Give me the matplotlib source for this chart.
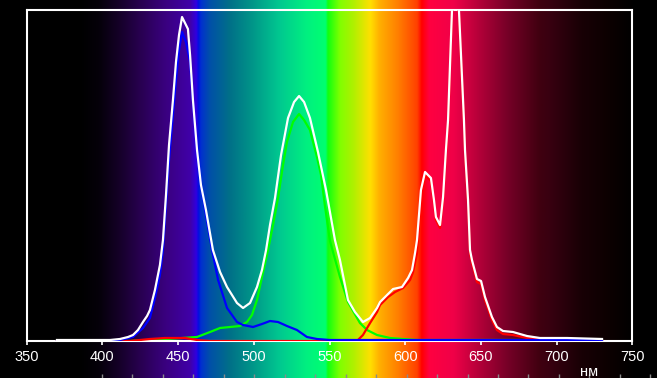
import numpy as np
import matplotlib
matplotlib.use("Agg")
import matplotlib.pyplot as plt
from matplotlib.colors import to_rgb

# ---------------- data ----------------
white_nm = [370.0, 405.0, 411.6, 416.9, 420.2, 423.5, 426.8, 429.5, 431.4, 434.7, 438.0, 440.0,
            442.0, 444.0, 446.6, 448.6, 450.6, 452.6, 456.5, 457.9, 459.8, 462.5, 465.1, 468.4,
            473.0, 477.7, 482.3, 488.9, 492.9, 497.5, 502.1, 505.4, 508.1, 510.7, 514.0, 518.0,
            522.6, 526.6, 529.9, 533.2, 537.1, 542.4, 547.7, 553.6, 556.9, 562.2, 566.8, 572.1,
            576.8, 581.4, 583.4, 588.0, 592.0, 597.9, 601.9, 604.5, 606.5, 607.8, 609.1, 610.4,
            613.1, 617.0, 619.0, 620.3, 623.0, 625.0, 626.9, 628.3, 630.9, 632.9, 635.5, 638.8,
            639.5, 641.5, 642.8, 644.1, 647.4, 650.1, 652.7, 657.3, 660.6, 664.6, 671.2, 680.4,
            689.0, 706.9, 730.0]
white_val = [1, 1, 2, 4, 6, 11, 19, 25, 31, 51, 76, 101,
             146, 196, 241, 279, 306, 324, 312, 286, 241, 191, 156, 131,
             91, 69, 54, 38, 33, 38, 54, 71, 91, 116, 143, 186,
             223, 239, 245, 239, 223, 189, 151, 101, 81, 41, 29, 19,
             23, 33, 39, 46, 52, 54, 63, 71, 88, 101, 126, 151,
             169, 163, 141, 124, 116, 144, 191, 221, 331, 421, 331, 221,
             191, 141, 91, 81, 62, 60, 44, 24, 14, 10, 9, 5,
             3, 3, 2]

blue_nm = [370.0, 411.6, 420.2, 426.8, 431.4, 434.7, 438.0, 440.0, 442.0, 444.0, 446.6, 448.6,
           450.6, 452.6, 455.2, 457.9, 459.8, 462.5, 465.1, 468.4, 472.4, 476.4, 482.3, 488.9,
           492.9, 499.5, 505.4, 510.7, 516.0, 521.9, 528.5, 535.1, 541.7, 550.3, 596.6, 629.6,
           730.0]
blue_val = [0, 1, 4, 13, 23, 43, 66, 91, 136, 181, 226, 261,
            291, 309, 299, 279, 241, 191, 156, 126, 91, 61, 33, 19,
            16, 14, 17, 20, 19, 15, 11, 4, 2, 1, 1, 1,
            1]

green_nm = [370.0, 418.2, 442.7, 462.5, 471.1, 477.7, 484.3, 490.9, 495.5, 498.8, 502.1, 505.4,
            509.4, 512.7, 516.0, 519.3, 521.9, 525.9, 529.9, 533.2, 537.1, 541.7, 544.4, 547.0,
            550.3, 556.9, 562.2, 570.1, 574.8, 581.4, 590.0, 598.6, 607.8, 642.8, 730.0]
green_val = [0, 0, 2, 4, 9, 13, 14, 15, 19, 26, 41, 64,
             91, 116, 143, 176, 199, 219, 227, 221, 211, 184, 166, 135,
             100, 64, 39, 18, 11, 6, 3, 2, 1, 1, 1]

red_nm = [370.0, 418.2, 431.4, 441.3, 454.6, 462.5, 471.1, 563.5, 568.8, 572.1, 576.8, 581.4,
          583.4, 588.7, 593.3, 598.6, 603.2, 605.2, 607.8, 609.1, 610.4, 613.1, 617.0, 619.0,
          620.3, 623.0, 625.0, 626.9, 628.3, 630.9, 632.9, 635.5, 638.8, 639.5, 641.5, 642.8,
          644.1, 647.4, 650.1, 652.7, 657.3, 660.6, 664.6, 671.2, 680.4, 689.0, 706.9, 730.0]
red_val = [0, 0, 2, 3, 3, 1, 0, 0, 1, 6, 18, 29,
           36, 44, 49, 53, 61, 69, 88, 116, 146, 166, 160, 138,
           121, 113, 141, 188, 218, 328, 418, 328, 218, 188, 138, 88,
           78, 59, 57, 41, 21, 11, 7, 6, 3, 2, 1, 1]

x_ticks = [350, 400, 450, 500, 550, 600, 650, 700, 750]
x_label = "нм"
scale_ticks = list(range(400, 761, 20))

# spectrum background colour stops (nm, colour)
spec_nm = [332, 385, 398, 411, 425, 442, 458, 462, 463.5, 465, 471, 484, 497, 517, 535, 547.5,
           549, 557, 566, 577, 583, 595, 608, 611, 616, 632, 650, 667, 689, 696, 717, 740, 752, 767]
spec_col = ["#000000", "#000000", "#05000a", "#150028", "#280050", "#3a0080", "#4000a8", "#3000e0",
            "#0010e0", "#0030d0", "#0050a8", "#007088", "#009088", "#00c890", "#00f080", "#00ff70",
            "#10ff10", "#80ff00", "#b0f000", "#ffe000", "#ffb000", "#ff8000", "#ff4000", "#ff0000",
            "#ff0040", "#f00048", "#b00038", "#780028", "#400010", "#380010", "#180005", "#080000",
            "#000000", "#000000"]

# ---------------- figure ----------------
W, H = 657, 378
fig = plt.figure(figsize=(W / 100, H / 100), dpi=100, facecolor="black")

x0_px, x1_px = 26.7, 632.3       # pixel positions of 350 and 750
ppn = (x1_px - x0_px) / 400.0
nm_left = 350 - x0_px / ppn
nm_right = 350 + (W - x0_px) / ppn

# background spectrum
bg = fig.add_axes([0, 0, 1, 1])
bg.set_axis_off()
grid = np.linspace(nm_left, nm_right, 1400)
rgb = np.array([to_rgb(c) for c in spec_col])
img = np.stack([np.interp(grid, spec_nm, rgb[:, k]) for k in range(3)], axis=-1)[None, :, :]
bg.imshow(img, extent=[nm_left, nm_right, 0, 1], aspect="auto", interpolation="bilinear")
bg.set_xlim(nm_left, nm_right)
bg.set_ylim(0, 1)

# main axes
top_px, bot_px = 10, 341
ax = fig.add_axes([x0_px / W, (H - bot_px) / H, (x1_px - x0_px) / W, (bot_px - top_px) / H])
ax.set_facecolor("none")
ax.set_xlim(350, 750)
ax.set_ylim(0, bot_px - top_px)

lw = 1.6
ax.plot(green_nm, green_val, color="#00ff00", lw=lw, zorder=2, solid_joinstyle="round")
ax.plot(red_nm, red_val, color="#ff0000", lw=lw, zorder=3, solid_joinstyle="round")
ax.plot(blue_nm, blue_val, color="#0000ff", lw=lw, zorder=4, solid_joinstyle="round")
ax.plot(white_nm, white_val, color="#ffffff", lw=lw, zorder=5, solid_joinstyle="round")

for s in ax.spines.values():
    s.set_color("white")
    s.set_linewidth(1.5)
ax.set_yticks([])
ax.set_xticks(x_ticks)
ax.tick_params(axis="x", colors="white", direction="out", length=3, width=1.2, pad=3.5,
               labelsize=10.5, labelcolor="white")
for t in ax.get_xticklabels():
    t.set_fontfamily("Liberation Sans")

fig.text(589 / W, 1 - 372 / H, x_label, color="white", ha="center", va="center",
         fontsize=10.5, family="Liberation Sans")

# small gray scale marks at the bottom edge
sc_ppn = (650.3 - 102.0) / 360.0
sc_left = 400 - 102.0 / sc_ppn
sc_right = 400 + (W - 102.0) / sc_ppn
ax2 = fig.add_axes([0, 0, 1, 0.001])
ax2.set_facecolor("none")
ax2.set_xlim(sc_left, sc_right)
ax2.set_xticks(scale_ticks)
ax2.set_yticks([])
ax2.tick_params(axis="x", direction="in", length=3, width=1, colors="#8a8a8a", labelbottom=False)
for s in ax2.spines.values():
    s.set_visible(False)

fig.savefig("out.png", dpi=100, facecolor="black")
